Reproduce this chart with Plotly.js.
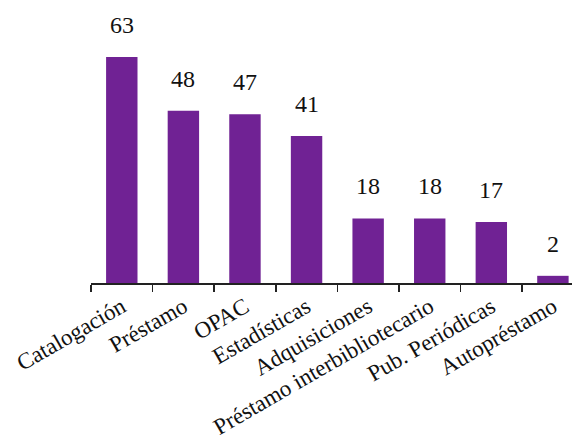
<!DOCTYPE html>
<html>
<head>
<meta charset="utf-8">
<script src="https://cdn.plot.ly/plotly-3.0.1.min.js"></script>
<style>html,body{margin:0;padding:0;background:#fff;}#chart{width:572px;height:440px;}</style>
</head>
<body>
<div id="chart"></div>
<script>
var categories = ["Catalogación", "Préstamo", "OPAC", "Estadísticas", "Adquisiciones", "Préstamo interbibliotecario", "Pub. Periódicas", "Autopréstamo"];
var values = [63, 48, 47, 41, 18, 18, 17, 2];

var fontFamily = "'Liberation Serif', 'Times New Roman', serif";

var trace = {
  type: "bar",
  x: categories,
  y: values,
  marker: {color: "rgb(112,34,148)"},
  hoverinfo: "x+y"
};

var annotations = categories.map(function (c, i) {
  return {
    x: c, y: values[i], xref: "x", yref: "y",
    text: String(values[i]), showarrow: false,
    yanchor: "bottom", yshift: 17,
    font: {family: fontFamily, size: 24, color: "#111"}
  };
});

var layout = {
  width: 572, height: 440,
  margin: {l: 91, r: 0, t: 20, b: 157, pad: 0},
  paper_bgcolor: "#fff", plot_bgcolor: "#fff",
  showlegend: false,
  bargap: 0.49,
  xaxis: {
    type: "category",
    range: [-0.5, 7.31],
    showline: true, linecolor: "#222", linewidth: 1.5,
    ticks: "outside", tickson: "boundaries", ticklen: 7, tickwidth: 1.5, tickcolor: "#222",
    tickangle: -30,
    tickfont: {family: fontFamily, size: 23, color: "#111"},
    showgrid: false, zeroline: false
  },
  yaxis: {
    range: [0, 73.3],
    visible: false, showgrid: false, zeroline: false
  },
  annotations: annotations
};

Plotly.newPlot("chart", [trace], layout, {displayModeBar: false, staticPlot: true});
</script>
</body>
</html>
